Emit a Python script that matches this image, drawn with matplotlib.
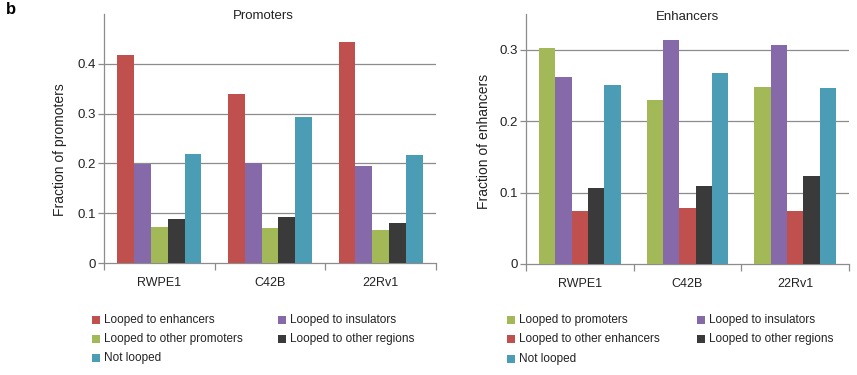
import matplotlib
matplotlib.use("Agg")
import matplotlib.pyplot as plt
import numpy as np
from matplotlib.patches import Rectangle

plt.rcParams['font.family'] = ['Liberation Sans', 'DejaVu Sans']

cells = ["RWPE1", "C42B", "22Rv1"]

# Promoters panel
prom_series = ["Looped to enhancers", "Looped to insulators", "Looped to other promoters",
               "Looped to other regions", "Not looped"]
prom_enh = [0.417, 0.339, 0.443]
prom_ins = [0.199, 0.201, 0.194]
prom_oth_prom = [0.072, 0.070, 0.067]
prom_oth_reg = [0.089, 0.092, 0.081]
prom_not = [0.219, 0.294, 0.216]

# Enhancers panel
enh_series = ["Looped to promoters", "Looped to insulators", "Looped to other enhancers",
              "Looped to other regions", "Not looped"]
enh_prom = [0.303, 0.230, 0.248]
enh_ins = [0.262, 0.313, 0.307]
enh_oth_enh = [0.074, 0.078, 0.074]
enh_oth_reg = [0.107, 0.109, 0.123]
enh_not = [0.250, 0.268, 0.246]

RED = "#C0504D"
PURPLE = "#8669A8"
GREEN = "#A3B957"
BLACK = "#3A3A3A"
TEAL = "#4A9DB5"

prom_colors = [RED, PURPLE, GREEN, BLACK, TEAL]
enh_colors = [GREEN, PURPLE, RED, BLACK, TEAL]

fig = plt.figure(figsize=(8.57, 3.75), dpi=100)
W, H = 857, 375

def axes_px(x0, x1, ytop, ybot):
    return fig.add_axes([x0 / W, 1 - ybot / H, (x1 - x0) / W, (ybot - ytop) / H])

ax1 = axes_px(104, 436, 14, 263)
ax2 = axes_px(526, 849, 14, 264)

GRAY = "#8c8c8c"
TXT = "#222222"

def draw(ax, data, colors, ymax, yticks, ylabel, label_xy, title, title_x):
    n = len(data)
    bw = 0.152
    x = np.arange(len(cells))
    for i, (vals, c) in enumerate(zip(data, colors)):
        ax.bar(x + (i - (n - 1) / 2) * bw, vals, width=bw, color=c, edgecolor='none', zorder=3)
    ax.set_xlim(-0.5, len(cells) - 0.5)
    ax.set_ylim(0, ymax)
    ax.set_yticks(yticks)
    ax.set_yticklabels(["0" if t == 0 else f"{t:.1f}" for t in yticks], fontsize=9.5, color=TXT)
    for t in yticks[1:]:
        ax.axhline(t, color=GRAY, lw=0.9, zorder=1)
    ax.set_xticks(x)
    ax.set_xticklabels(cells, fontsize=9, color=TXT)
    ax.set_xticks(np.arange(len(cells) + 1) - 0.5, minor=True)
    ax.tick_params(axis='x', which='major', length=0, pad=10)
    ax.tick_params(axis='x', which='minor', length=5, color=GRAY, width=0.9)
    ax.tick_params(axis='y', length=4, color=GRAY, width=0.9, pad=2)
    for s in ['top', 'right']:
        ax.spines[s].set_visible(False)
    for s in ['left', 'bottom']:
        ax.spines[s].set_color(GRAY)
        ax.spines[s].set_linewidth(0.9)
    ax.set_ylabel(ylabel, fontsize=10, color=TXT)
    ax.yaxis.set_label_coords(*label_xy)
    ax.text(title_x, 0.99, title, transform=ax.transAxes, ha='center', va='center',
            fontsize=9.5, color=TXT)

draw(ax1, [prom_enh, prom_ins, prom_oth_prom, prom_oth_reg, prom_not], prom_colors,
     0.5, [0, 0.1, 0.2, 0.3, 0.4], "Fraction of promoters", (-0.111, 0.454),
     "Promoters", 0.479)
draw(ax2, [enh_prom, enh_ins, enh_oth_enh, enh_oth_reg, enh_not], enh_colors,
     0.35, [0, 0.1, 0.2, 0.3], "Fraction of enhancers", (-0.109, 0.492),
     "Enhancers", 0.5)

fig.text(6 / W, 1 - 10 / H, "b", fontsize=12, fontweight='bold', va='center', ha='left')

def legend(names, colors, col_x, rows_y, sq=7.5, gap=4.5):
    # Excel-style row-major legend with 2 columns
    for i, (name, c) in enumerate(zip(names, colors)):
        cx = col_x[i % 2]
        cy = rows_y[i // 2]
        fig.patches.append(Rectangle(((cx) / W, 1 - (cy + sq / 2) / H), sq / W, sq / H,
                                     transform=fig.transFigure, facecolor=c, edgecolor='none'))
        fig.text((cx + sq + gap) / W, 1 - cy / H, name, fontsize=8.5, color=TXT,
                 ha='left', va='center')

legend(prom_series, prom_colors, [92, 278], [320, 339, 358])
legend(enh_series, enh_colors, [507, 697], [320, 339, 359])

fig.savefig("out.png", dpi=100)
